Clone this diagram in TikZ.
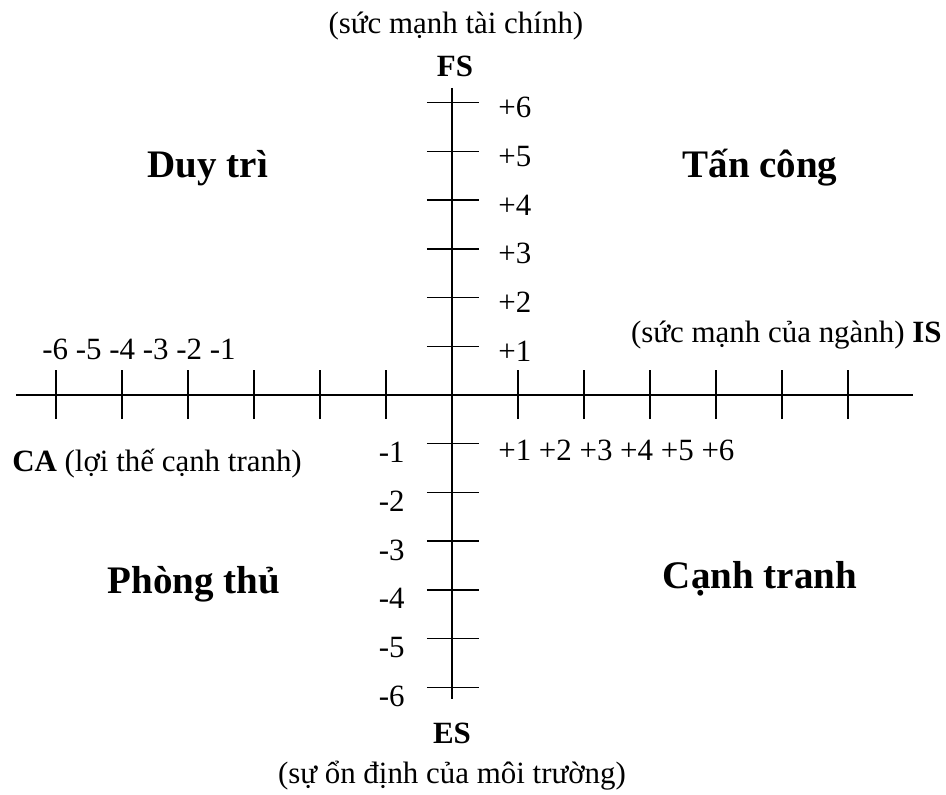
\documentclass[tikz,border=0pt]{standalone}
\usepackage{fontspec}
\setmainfont{Liberation Serif}
\usetikzlibrary{positioning}

\begin{document}
\begin{tikzpicture}[
  x=1.32cm, y=0.974cm,
  axis/.style={line width=0.8pt},
  tickmark/.style={line width=0.8pt},
  lbl/.style={inner sep=0pt, font=\fontsize{17.6}{21}\selectfont},
  quad/.style={inner sep=0pt, font=\fontsize{22.2}{26}\selectfont\bfseries}
]
\useasboundingbox (-6.848,-8.193) rectangle (7.485,8.111);
% axis ends
\coordinate (west) at (-6.606,0);
\coordinate (east) at (6.985,0);
\coordinate (north) at (0,6.304);
\coordinate (south) at (0,-6.242);
\draw[axis] (west) -- (east);
\draw[axis] (north) -- (south);
% ticks
\foreach \k in {1,...,6} {
  \draw[tickmark] (\k,-0.493) -- (\k,0.513);
  \draw[tickmark] (-\k,-0.493) -- (-\k,0.513);
  \draw[tickmark] (-0.379,\k) -- (0.409,\k);
  \draw[tickmark] (-0.379,-\k) -- (0.409,-\k);
  \node[lbl, anchor=base west] (fs\k) at (0.697,\k-0.308) {+\k};
  \node[lbl, anchor=base east] (es\k) at (-0.712,-\k-0.39) {-\k};
}
\node[lbl, anchor=base west] (caval) at (-6.212,0.739) {-6 -5 -4 -3 -2 -1};
\node[lbl, anchor=base west] (isval) at (0.697,-1.335) {+1 +2 +3 +4 +5 +6};
% axis names
\node[lbl, anchor=base] (fsname) at (0.045,6.55) {\textbf{FS}};
\node[lbl, anchor=base] (fstext) at (0.06,7.433) {(sức mạnh tài chính)};
\node[lbl, anchor=base] (esname) at (0,-7.146) {\textbf{ES}};
\node[lbl, anchor=base] (estext) at (0,-7.967) {(sự ổn định của môi trường)};
\node[lbl, anchor=base east] (isname) at (7.424,1.088) {(sức mạnh của ngành) \textbf{IS}};
\node[lbl, anchor=base west] (caname) at (-6.667,-1.581) {\textbf{CA} (lợi thế cạnh tranh)};
% quadrants
\node[quad, anchor=base] (duytri) at (-3.697,4.476) {Duy trì};
\node[quad, anchor=base] (tancong) at (4.667,4.476) {Tấn công};
\node[quad, anchor=base] (phongthu) at (-3.909,-4.066) {Phòng thủ};
\node[quad, anchor=base] (canhtranh) at (4.667,-3.963) {Cạnh tranh};
\end{tikzpicture}
\end{document}
